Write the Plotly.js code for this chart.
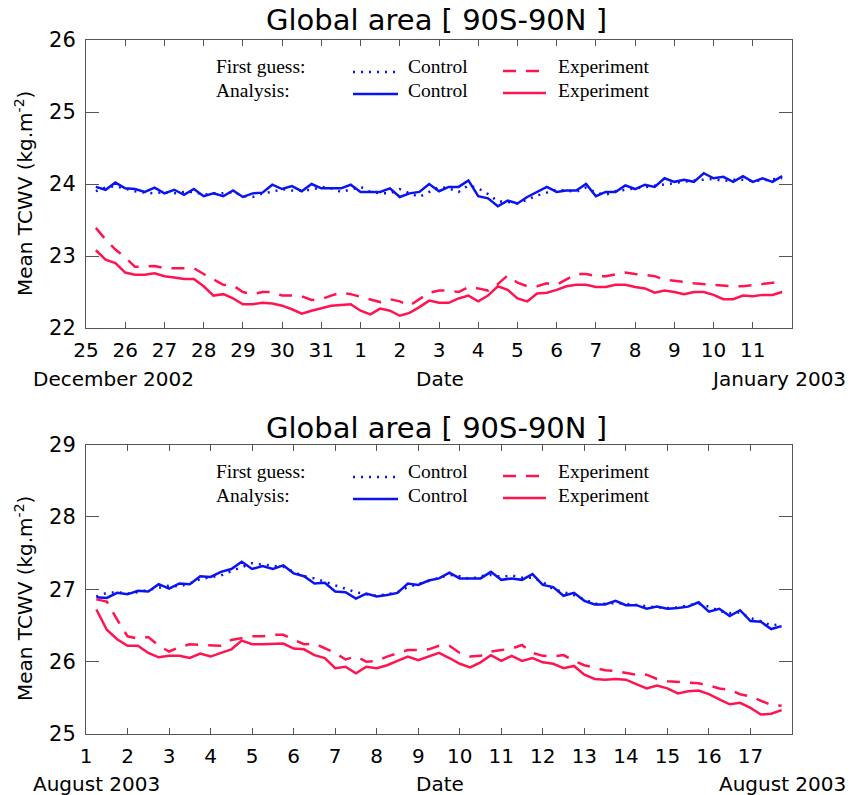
<!DOCTYPE html>
<html>
<head>
<meta charset="utf-8">
<script src="https://cdn.plot.ly/plotly-3.0.1.min.js"></script>
<style>html,body{margin:0;padding:0;background:#fff;}#chart{width:852px;height:795px;}</style>
</head>
<body>
<div id="chart"></div>
<script>
// ---------- Data (6-hourly values, kg m-2) ----------
// Top panel: 25 Dec 2002 06Z .. 11 Jan 2003 18Z
const topStart = '2002-12-25T06:00:00Z';
const topAnaControl = [
  23.96, 23.92, 24.02, 23.94, 23.93, 23.89, 23.95, 23.87, 23.92, 23.85,
  23.93, 23.83, 23.87, 23.83, 23.91, 23.82, 23.87, 23.88, 23.99, 23.93,
  23.97, 23.90, 24.00, 23.94, 23.94, 23.94, 23.99, 23.89, 23.89, 23.89,
  23.94, 23.82, 23.87, 23.89, 24.00, 23.90, 23.96, 23.96,
  24.05, 23.83, 23.80, 23.69, 23.77, 23.73, 23.82, 23.89, 23.96, 23.89,
  23.91, 23.91, 24.00, 23.83, 23.89, 23.89, 23.98, 23.93, 23.99, 23.96,
  24.08, 24.03, 24.06, 24.03, 24.15, 24.08, 24.10, 24.03, 24.11, 24.03,
  24.08, 24.03, 24.11
];
const topFgControl = [
  23.90, 23.95, 23.97, 23.93, 23.90, 23.88, 23.87, 23.89, 23.87, 23.89,
  23.89, 23.85, 23.87, 23.87, 23.89, 23.83, 23.82, 23.87, 23.89, 23.93,
  23.91, 23.91, 23.92, 23.96, 23.94, 23.89, 23.93, 23.96, 23.89, 23.87,
  23.87, 23.93, 23.87, 23.82, 23.89, 23.96, 23.94, 23.89,
  23.98, 23.94, 23.86, 23.76, 23.75, 23.73, 23.78, 23.84, 23.88, 23.92,
  23.91, 23.89, 23.95, 23.88, 23.85, 23.90, 23.92, 23.94, 23.96, 23.97,
  23.99, 24.02, 24.03, 24.05, 24.06, 24.07, 24.04, 24.06, 24.06, 24.04,
  24.05, 24.07, 24.08
];
const topAnaExperiment = [
  23.08, 22.95, 22.90, 22.77, 22.74, 22.74, 22.76, 22.72, 22.70, 22.68,
  22.68, 22.58, 22.45, 22.47, 22.41, 22.33, 22.33, 22.35, 22.34, 22.31,
  22.26, 22.20, 22.24, 22.28, 22.31, 22.32, 22.33, 22.24, 22.19, 22.27,
  22.24, 22.17, 22.21, 22.29, 22.38, 22.35, 22.35, 22.41,
  22.45, 22.37, 22.45, 22.58, 22.53, 22.41, 22.37, 22.48, 22.49, 22.53,
  22.58, 22.60, 22.60, 22.57, 22.57, 22.60, 22.60, 22.57, 22.55, 22.49,
  22.52, 22.50, 22.47, 22.50, 22.50, 22.46, 22.40, 22.40, 22.45, 22.44,
  22.46, 22.46, 22.50
];
const topFgExperiment = [
  23.39, 23.23, 23.09, 22.98, 22.85, 22.86, 22.86, 22.83, 22.83, 22.83,
  22.83, 22.75, 22.67, 22.60, 22.59, 22.50, 22.47, 22.50, 22.50, 22.45,
  22.45, 22.44, 22.39, 22.40, 22.45, 22.49, 22.47, 22.43, 22.39, 22.36,
  22.40, 22.37, 22.31, 22.40, 22.49, 22.52, 22.52, 22.50,
  22.57, 22.55, 22.52, 22.61, 22.73, 22.63, 22.58, 22.58, 22.62, 22.60,
  22.68, 22.75, 22.75, 22.72, 22.72, 22.75, 22.77, 22.75, 22.73, 22.72,
  22.67, 22.66, 22.64, 22.62, 22.61, 22.59, 22.58, 22.58, 22.58, 22.59,
  22.61, 22.63, 22.63
];
const topTickDays = ['2002-12-25','2002-12-26','2002-12-27','2002-12-28','2002-12-29','2002-12-30','2002-12-31',
  '2003-01-01','2003-01-02','2003-01-03','2003-01-04','2003-01-05','2003-01-06','2003-01-07','2003-01-08',
  '2003-01-09','2003-01-10','2003-01-11'];
const topTickLabels = ['25','26','27','28','29','30','31','1','2','3','4','5','6','7','8','9','10','11'];
const topRange = ['2002-12-25', '2003-01-12'];

// Bottom panel: 1 Aug 2003 06Z .. 17 Aug 2003 18Z
const botStart = '2003-08-01T06:00:00Z';
const botAnaControl = [
  26.89, 26.88, 26.95, 26.93, 26.98, 26.97, 27.07, 27.01, 27.08, 27.07,
  27.18, 27.17, 27.24, 27.28, 27.38, 27.28, 27.32, 27.28, 27.33, 27.22,
  27.18, 27.08, 27.09, 26.97, 26.96, 26.87, 26.94, 26.90, 26.92, 26.95,
  27.08, 27.06, 27.12, 27.15, 27.23, 27.15,
  27.15, 27.15, 27.24, 27.13, 27.15, 27.13, 27.21, 27.06, 27.03, 26.91,
  26.95, 26.84, 26.79, 26.79, 26.84, 26.78, 26.78, 26.73, 26.76, 26.73,
  26.74, 26.76, 26.82, 26.69, 26.73, 26.63, 26.71, 26.56, 26.55, 26.45,
  26.49
];
const botFgControl = [
  26.90, 26.95, 26.96, 26.94, 26.96, 26.99, 27.03, 27.05, 27.04, 27.08,
  27.14, 27.17, 27.19, 27.25, 27.30, 27.36, 27.34, 27.33, 27.31, 27.24,
  27.18, 27.15, 27.10, 27.05, 27.00, 26.96, 26.93, 26.91, 26.93, 26.96,
  27.03, 27.07, 27.12, 27.15, 27.20, 27.18,
  27.14, 27.18, 27.20, 27.17, 27.19, 27.16, 27.16, 27.10, 27.00, 26.96,
  26.92, 26.86, 26.80, 26.80, 26.81, 26.80, 26.78, 26.76, 26.75, 26.74,
  26.75, 26.78, 26.80, 26.76, 26.70, 26.67, 26.68, 26.60, 26.56, 26.50,
  26.52
];
const botAnaExperiment = [
  26.72, 26.44, 26.31, 26.22, 26.22, 26.12, 26.06, 26.08, 26.08, 26.05,
  26.11, 26.07, 26.12, 26.17, 26.29, 26.24, 26.24, 26.24, 26.25, 26.18,
  26.17, 26.09, 26.05, 25.91, 25.93, 25.84, 25.93, 25.91, 25.95, 26.01,
  26.07, 26.02, 26.07, 26.12, 26.05, 25.97,
  25.92, 25.99, 26.09, 26.01, 26.08, 26.01, 26.05, 25.99, 25.97, 25.91,
  25.94, 25.82, 25.76, 25.75, 25.76, 25.75, 25.69, 25.63, 25.67, 25.63,
  25.56, 25.59, 25.60, 25.55, 25.48, 25.41, 25.43, 25.36, 25.27, 25.28,
  25.33
];
const botFgExperiment = [
  26.86, 26.83, 26.58, 26.35, 26.32, 26.34, 26.22, 26.14, 26.20, 26.24,
  26.23, 26.22, 26.22, 26.30, 26.33, 26.35, 26.35, 26.37, 26.37, 26.30,
  26.24, 26.25, 26.18, 26.12, 26.03, 26.07, 26.00, 26.01, 26.07, 26.12,
  26.16, 26.16, 26.17, 26.22, 26.22, 26.12,
  26.07, 26.08, 26.14, 26.16, 26.18, 26.23, 26.12, 26.08, 26.07, 26.09,
  26.01, 25.95, 25.91, 25.88, 25.87, 25.84, 25.82, 25.82, 25.76, 25.73,
  25.72, 25.71, 25.70, 25.67, 25.63, 25.61, 25.55, 25.52, 25.46, 25.40,
  25.39
];
const botTickDays = ['2003-08-01','2003-08-02','2003-08-03','2003-08-04','2003-08-05','2003-08-06','2003-08-07',
  '2003-08-08','2003-08-09','2003-08-10','2003-08-11','2003-08-12','2003-08-13','2003-08-14','2003-08-15',
  '2003-08-16','2003-08-17'];
const botTickLabels = ['1','2','3','4','5','6','7','8','9','10','11','12','13','14','15','16','17'];
const botRange = ['2003-08-01', '2003-08-18'];

const panelTitle = 'Global area [ 90S-90N ]';
const yTitle = 'Mean TCWV (kg.m<sup>-2</sup>)';

// ---------- Helpers ----------
function sixHourly(start, n) {
  const t0 = Date.parse(start);
  const out = [];
  for (let i = 0; i < n; i++) {
    out.push(new Date(t0 + i * 6 * 3600 * 1000).toISOString().slice(0, 16).replace('T', ' '));
  }
  return out;
}
const W = 852, H = 795;
const M = {l: 86, r: 60, t: 40, b: 61};
const PW = W - M.l - M.r, PH = H - M.t - M.b;
const px = x => (x - M.l) / PW;
const py = y => (H - M.b - y) / PH;

const BLUE = '#0a14f0';
const RED = '#ff1450';
const sansFont = '"DejaVu Sans", Verdana, sans-serif';
const serifFont = '"Liberation Serif", "Times New Roman", serif';

const topT = sixHourly(topStart, topAnaControl.length);
const botT = sixHourly(botStart, botAnaControl.length);

function tr(x, y, color, dash, width, xa, ya) {
  return {x: x, y: y, type: 'scatter', mode: 'lines', xaxis: xa, yaxis: ya, showlegend: false,
          hoverinfo: 'skip', line: {color: color, dash: dash, width: width}};
}
const DOT = '2px,6px', DASH = '13px,10px';
const data = [
  tr(topT, topFgControl, BLUE, DOT, 2.5, 'x', 'y'),
  tr(topT, topAnaControl, BLUE, 'solid', 2.5, 'x', 'y'),
  tr(topT, topFgExperiment, RED, DASH, 2.5, 'x', 'y'),
  tr(topT, topAnaExperiment, RED, 'solid', 2.5, 'x', 'y'),
  tr(botT, botFgControl, BLUE, DOT, 2.5, 'x2', 'y2'),
  tr(botT, botAnaControl, BLUE, 'solid', 2.5, 'x2', 'y2'),
  tr(botT, botFgExperiment, RED, DASH, 2.5, 'x2', 'y2'),
  tr(botT, botAnaExperiment, RED, 'solid', 2.5, 'x2', 'y2')
];

function xAxis(range, vals, labels, anchor) {
  return {type: 'date', range: range, tickmode: 'array', tickvals: vals, ticktext: labels,
    ticks: 'inside', ticklen: 6, tickwidth: 1, tickcolor: '#555', showline: true, linecolor: '#555',
    linewidth: 1, mirror: 'ticks', showgrid: false, zeroline: false, anchor: anchor,
    ticklabelstandoff: 4, tickfont: {family: sansFont, size: 20, color: '#000'}};
}
function yAxis(range, domain, anchor) {
  return {range: range, domain: domain, dtick: 1, tick0: 0, ticks: 'inside', ticklen: 13,
    tickwidth: 1, tickcolor: '#555', showline: true, linecolor: '#555', linewidth: 1, mirror: 'ticks',
    showgrid: false, zeroline: false, anchor: anchor, ticklabelstandoff: 5,
    tickfont: {family: sansFont, size: 21, color: '#000'}};
}

const annotations = [];
const shapes = [];
function txt(x, y, text, size, family, xanchor, extra) {
  annotations.push(Object.assign({xref: 'paper', yref: 'paper', x: px(x), y: py(y), text: text,
    showarrow: false, xanchor: xanchor || 'center', yanchor: 'middle',
    font: {family: family, size: size, color: '#000'}}, extra || {}));
}
function sample(x0, x1, y, color, dash) {
  shapes.push({type: 'line', xref: 'paper', yref: 'paper', x0: px(x0), x1: px(x1), y0: py(y), y1: py(y),
    line: {color: color, width: 2.5, dash: dash}});
}
// [title offset, legend offset, bottom-label offset, left date label, right date label]
[[0, 0, 0, 'December 2002', 'January 2003'], [408, 405, 405, 'August 2003', 'August 2003']].forEach(function (p) {
  const ot = p[0], ol = p[1], ob = p[2];
  txt(436, 20 + ot, panelTitle, 29, sansFont);
  txt(24, 194 + ol, yTitle, 20, sansFont, 'center', {textangle: -90});
  txt(31, 379 + ob, p[3], 20, sansFont, 'left');
  txt(440, 379 + ob, 'Date', 20, sansFont);
  txt(848, 379 + ob, p[4], 20, sansFont, 'right');
  txt(214, 66 + ol, 'First guess:', 19.5, serifFont, 'left');
  txt(214, 90 + ol, 'Analysis:', 19.5, serifFont, 'left');
  txt(406, 66 + ol, 'Control', 19.5, serifFont, 'left');
  txt(406, 90 + ol, 'Control', 19.5, serifFont, 'left');
  txt(556, 66 + ol, 'Experiment', 19.5, serifFont, 'left');
  txt(556, 90 + ol, 'Experiment', 19.5, serifFont, 'left');
  sample(353, 398, 72 + ol, BLUE, DOT);
  sample(353, 398, 94 + ol, BLUE, 'solid');
  sample(503, 546, 71 + ol, RED, DASH);
  sample(503, 546, 93 + ol, RED, 'solid');
});

const layout = {
  width: W, height: H, margin: M, paper_bgcolor: '#fff', plot_bgcolor: '#fff',
  showlegend: false,
  xaxis: xAxis(topRange, topTickDays, topTickLabels, 'y'),
  yaxis: yAxis([22, 26], [py(328), 1], 'x'),
  xaxis2: xAxis(botRange, botTickDays, botTickLabels, 'y2'),
  yaxis2: yAxis([25, 29], [0, py(444.5)], 'x2'),
  annotations: annotations, shapes: shapes
};
Plotly.newPlot('chart', data, layout, {staticPlot: true, displayModeBar: false});
</script>
</body>
</html>
